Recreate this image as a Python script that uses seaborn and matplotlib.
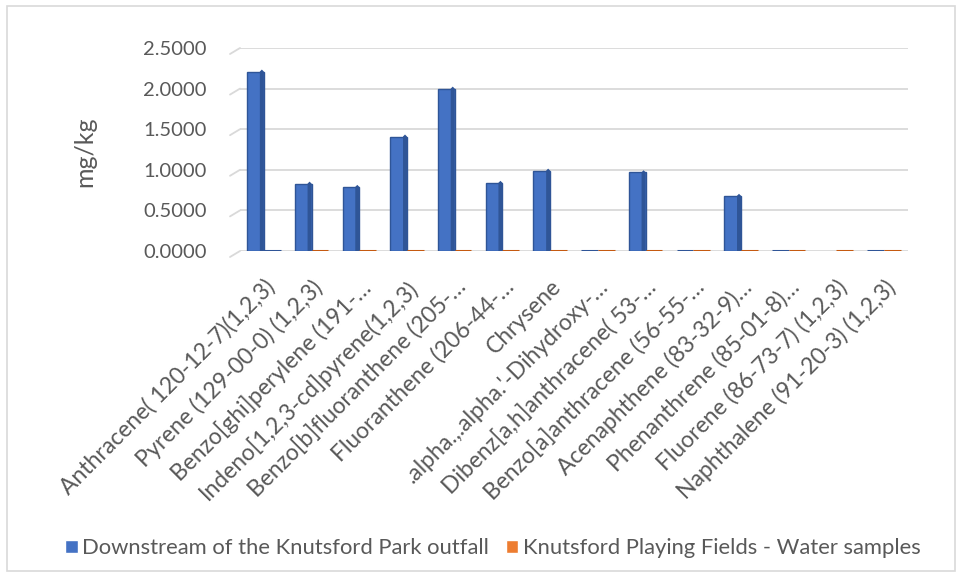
import numpy as np
import pandas as pd
import matplotlib.pyplot as plt
import seaborn as sns
from matplotlib.patches import Patch, Polygon, Rectangle

# PAH concentrations (mg/kg)
compounds = [
    'Anthracene( 120-12-7)(1,2,3)',
    'Pyrene (129-00-0) (1,2,3)',
    'Benzo[ghi]perylene (191-…',
    'Indeno[1,2,3-cd]pyrene(1,2,3)',
    'Benzo[b]fluoranthene (205-…',
    'Fluoranthene (206-44-…',
    'Chrysene',
    ".alpha.,.alpha.'-Dihydroxy-…",
    'Dibenz[a,h]anthracene( 53-…',
    'Benzo[a]anthracene (56-55-…',
    'Acenaphthene (83-32-9)…',
    'Phenanthrene (85-01-8)…',
    'Fluorene (86-73-7) (1,2,3)',
    'Naphthalene (91-20-3) (1,2,3)',
]
downstream = [2.21, 0.83, 0.79, 1.41, 2.00, 0.84, 0.99, 0.0, 0.97, 0.0, 0.68, 0.0, np.nan, 0.0]
playing_fields = [0.0, 0.0, 0.0, 0.0, 0.0, 0.0, 0.0, 0.0, 0.0, 0.0, 0.0, 0.0, 0.0, 0.0]
sites = ['Downstream of the Knutsford Park outfall', 'Knutsford Playing Fields - Water samples']
y_ticks = [0.0, 0.5, 1.0, 1.5, 2.0, 2.5]

df = pd.DataFrame({
    'compound': compounds * 2,
    'site': [sites[0]] * len(compounds) + [sites[1]] * len(compounds),
    'value': downstream + playing_fields,
})

blue, orange = '#4472C4', '#ED7D31'
blue_dark, orange_dark = '#2F5597', '#C55A11'
grey_text = '#595959'

sns.set_theme(style='white')
plt.rcParams['font.family'] = ['Lato', 'DejaVu Sans']

W, H = 956, 577
fig = plt.figure(figsize=(W / 100, H / 100), dpi=100)
ax = fig.add_axes([240 / W, 1 - 251 / H, 668 / W, 203 / H])

sns.barplot(data=df, x='compound', y='value', hue='site', order=compounds,
            hue_order=sites, palette=[blue, orange], saturation=1, width=0.7,
            legend=False, ax=ax)

ax.set_ylim(0, 2.5)
ax.set_xlim(-0.5, len(compounds) - 0.5)

# pixel -> data conversion for the fake 3D side faces
dx = (len(compounds)) / 668.0
dy = 2.5 / 203.0
for i, p in enumerate(ax.patches[:2 * len(compounds)]):
    is_blue = i < len(compounds)
    dark = blue_dark if is_blue else orange_dark
    x0, w, h = p.get_x(), p.get_width(), p.get_height()
    if np.isnan(h):
        continue
    p.set_edgecolor(dark)
    p.set_linewidth(1.0 if h > 0 else 2.2)
    if h > 0:
        side = Polygon([(x0 + w - 4 * dx, 0), (x0 + w, 0), (x0 + w, h),
                        (x0 + w - 2 * dx, h + 2 * dy), (x0 + w - 4 * dx, h)],
                       closed=True, facecolor=dark, edgecolor='none', zorder=3)
        ax.add_patch(side)

ax.set_yticks(y_ticks)
ax.set_yticklabels([f'{v:.4f}' for v in y_ticks])
ax.yaxis.grid(True, color='#D9D9D9', linewidth=1.3)
ax.set_axisbelow(True)
for v in y_ticks:
    ax.plot([-10 / 668, 0], [v / 2.5 - 6 / 203, v / 2.5], transform=ax.transAxes,
            color='#D9D9D9', lw=1.3, clip_on=False)
sns.despine(ax=ax, left=True, bottom=True)

ax.tick_params(axis='y', length=0, pad=24, labelsize=14.5, labelcolor=grey_text)
ax.tick_params(axis='x', length=0, pad=18, labelsize=16.5, labelcolor=grey_text)
plt.setp(ax.get_xticklabels(), rotation=45, ha='right', rotation_mode='anchor')
ax.set_xlabel('')
ax.set_ylabel('')
fig.text(85 / W, 1 - 152 / H, 'mg/kg', rotation=90, ha='center', va='center',
         fontsize=18, color=grey_text)

handles = [Patch(facecolor=blue, label=sites[0]), Patch(facecolor=orange, label=sites[1])]
leg = fig.legend(handles=handles, loc='center', bbox_to_anchor=(493 / W, 1 - 548 / H),
                 ncol=2, frameon=False, fontsize=15.8, handlelength=0.55, handleheight=0.55,
                 handletextpad=0.2, columnspacing=0.8)
for t in leg.get_texts():
    t.set_color(grey_text)

fig.patches.append(Rectangle((7 / W, 1 - 571 / H), 948 / W, 565 / H, transform=fig.transFigure,
                             fill=False, edgecolor='#D9D9D9', linewidth=1.2))

fig.savefig('out.png', dpi=100)
